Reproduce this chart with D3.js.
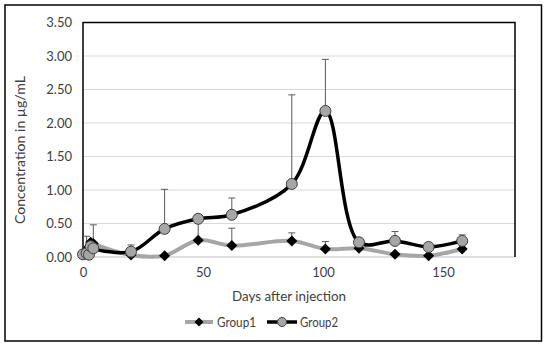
<!DOCTYPE html>
<html>
<head>
<meta charset="utf-8">
<script src="https://cdn.jsdelivr.net/npm/d3@7"></script>
<style>
  html, body { margin: 0; padding: 0; background: #fff; }
  svg { display: block; }
  text { font-family: Lato, "Open Sans", sans-serif; fill: #404040; }
</style>
</head>
<body>
<svg id="chart" width="550" height="350"></svg>
<script>
// ---- data ----
const days = [0, 1.5, 2.5, 3.2, 4.3, 20, 34, 48, 62, 87, 101, 115, 130, 144, 158];
const group1 = [0.05, 0.10, 0.15, 0.22, 0.20, 0.03, 0.02, 0.25, 0.17, 0.24, 0.12, 0.13, 0.04, 0.02, 0.12];
const group1Err = [0.02, 0.21, 0.02, 0.02, 0.02, 0.02, 0.02, 0.32, 0.26, 0.12, 0.11, 0.02, 0.02, 0.02, 0.02];
const group2 = [0.04, 0.055, 0.035, 0.16, 0.13, 0.08, 0.42, 0.57, 0.63, 1.09, 2.18, 0.22, 0.24, 0.15, 0.24];
const group2Err = [0.02, 0.02, 0.02, 0.02, 0.35, 0.10, 0.59, 0.06, 0.25, 1.33, 0.77, 0.03, 0.14, 0.02, 0.09];
const yTicks = [0, 0.5, 1, 1.5, 2, 2.5, 3, 3.5];
const xTicks = [0, 50, 100, 150];
const seriesNames = ["Group1", "Group2"];

// ---- layout ----
const svg = d3.select("#chart");
const L = 83, R = 515, T = 22.5, B = 257;
const x = d3.scaleLinear().domain([0, 180]).range([L, R]);
const y = d3.scaleLinear().domain([0, 3.5]).range([B, T]);

// outer border
svg.append("rect").attr("x", 5).attr("y", 5).attr("width", 536.5).attr("height", 336)
  .attr("fill", "#fff").attr("stroke", "#000").attr("stroke-width", 1.5);

// gridlines
svg.append("g").selectAll("line").data(yTicks.filter(d => d > 0 && d < 3.5)).join("line")
  .attr("x1", L).attr("x2", R).attr("y1", d => y(d)).attr("y2", d => y(d))
  .attr("stroke", "#d9d9d9").attr("stroke-width", 1);
svg.append("line").attr("x1", L).attr("x2", R).attr("y1", y(0)).attr("y2", y(0))
  .attr("stroke", "#bfbfbf").attr("stroke-width", 1);

// plot frame (left, top, right)
svg.append("path")
  .attr("d", `M${L},${B} V${T} H${R} V${B}`)
  .attr("fill", "none").attr("stroke", "#000").attr("stroke-width", 1.5);

// y axis labels
const yAxis = d3.axisLeft(y).tickValues(yTicks).tickFormat(d3.format(".2f")).tickSize(0).tickPadding(11);
const gy = svg.append("g").attr("transform", `translate(${L},0)`).call(yAxis);
gy.select(".domain").remove();
gy.selectAll("text").style("font-size", "13px").attr("fill", "#404040")
  .style("font-family", "Lato, sans-serif");

// x axis labels
const xAxis = d3.axisBottom(x).tickValues(xTicks).tickFormat(d3.format("d")).tickSize(0).tickPadding(11);
const gx = svg.append("g").attr("transform", `translate(0,${B})`).call(xAxis);
gx.select(".domain").remove();
gx.selectAll("text").style("font-size", "13px").attr("fill", "#404040")
  .style("font-family", "Lato, sans-serif");

// axis titles
svg.append("text").attr("x", 289).attr("y", 301).attr("text-anchor", "middle")
  .attr("textLength", 114).attr("lengthAdjust", "spacingAndGlyphs")
  .style("font-size", "14px").text("Days after injection");
svg.append("text").attr("transform", `translate(25,150) rotate(-90)`)
  .attr("text-anchor", "middle")
  .attr("textLength", 148).attr("lengthAdjust", "spacingAndGlyphs")
  .style("font-size", "14px").text("Concentration in µg/mL");

const pts1 = days.map((d, i) => ({ d, v: group1[i], e: group1Err[i] }));
const pts2 = days.map((d, i) => ({ d, v: group2[i], e: group2Err[i] }));

// error bars (upper only)
function errBars(pts) {
  const g = svg.append("g").attr("stroke", "#595959").attr("stroke-width", 1);
  pts.forEach(p => {
    g.append("line").attr("x1", x(p.d)).attr("x2", x(p.d)).attr("y1", y(p.v)).attr("y2", y(p.v + p.e));
    g.append("line").attr("x1", x(p.d) - 3.5).attr("x2", x(p.d) + 3.5).attr("y1", y(p.v + p.e)).attr("y2", y(p.v + p.e));
  });
}
errBars(pts1);
errBars(pts2);

const line = d3.line().x(p => x(p.d)).y(p => y(p.v)).curve(d3.curveCatmullRom.alpha(0.5));
const diamondPath = s => `M0,${-s}L${s},0L0,${s}L${-s},0Z`;

// Group1
svg.append("path").datum(pts1).attr("d", line).attr("fill", "none")
  .attr("stroke", "#a6a6a6").attr("stroke-width", 4);
svg.append("g").selectAll("path").data(pts1).join("path")
  .attr("transform", p => `translate(${x(p.d)},${y(p.v)})`).attr("d", diamondPath(5.5))
  .attr("fill", "#000");

// Group2
svg.append("path").datum(pts2).attr("d", line).attr("fill", "none")
  .attr("stroke", "#000").attr("stroke-width", 3.5);
svg.append("g").selectAll("circle").data(pts2).join("circle")
  .attr("cx", p => x(p.d)).attr("cy", p => y(p.v)).attr("r", 5.5)
  .attr("fill", "#a6a6a6").attr("stroke", "#404040").attr("stroke-width", 1);

// legend
const leg = svg.append("g");
const ly = 322;
leg.append("line").attr("x1", 185).attr("x2", 213).attr("y1", ly).attr("y2", ly)
  .attr("stroke", "#a6a6a6").attr("stroke-width", 4);
leg.append("path").attr("transform", `translate(199,${ly})`).attr("d", diamondPath(4.5)).attr("fill", "#000");
leg.append("text").attr("x", 217).attr("y", ly + 4.5).style("font-size", "13px")
  .attr("textLength", 39).attr("lengthAdjust", "spacingAndGlyphs").text(seriesNames[0]);
leg.append("line").attr("x1", 267).attr("x2", 297).attr("y1", ly).attr("y2", ly)
  .attr("stroke", "#000").attr("stroke-width", 3.5);
leg.append("circle").attr("cx", 282).attr("cy", ly).attr("r", 4.5)
  .attr("fill", "#a6a6a6").attr("stroke", "#404040").attr("stroke-width", 1);
leg.append("text").attr("x", 300).attr("y", ly + 4.5).style("font-size", "13px")
  .attr("textLength", 38).attr("lengthAdjust", "spacingAndGlyphs").text(seriesNames[1]);
</script>
</body>
</html>
